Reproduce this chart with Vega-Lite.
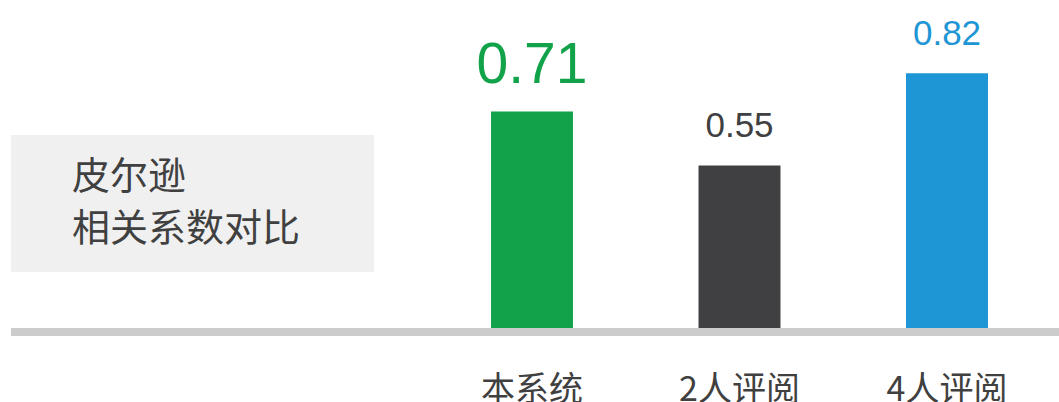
{
  "$schema": "https://vega.github.io/schema/vega-lite/v6.json",
  "width": 1048,
  "height": 328,
  "autosize": {"type": "none"},
  "padding": {"left": 11, "top": 0, "right": 0, "bottom": 74},
  "background": "#ffffff",
  "config": {"view": {"stroke": null}},
  "datasets": {
    "scores": [
      {"group": "本系统", "r": 0.71},
      {"group": "2人评阅", "r": 0.55},
      {"group": "4人评阅", "r": 0.82}
    ],
    "note": [
      {"label": "皮尔逊\n相关系数对比"}
    ]
  },
  "layer": [
    {
      "data": {"name": "note"},
      "layer": [
        {
          "mark": {"type": "rect", "fill": "#f0f0f0"},
          "encoding": {
            "x": {"datum": 0, "type": "quantitative", "scale": {"domain": [0, 1], "range": [0, 363], "nice": false, "zero": false}, "axis": null},
            "x2": {"datum": 1},
            "y": {"datum": 0, "type": "quantitative", "scale": {"domain": [0, 1], "range": [272, 135], "nice": false, "zero": false}, "axis": null},
            "y2": {"datum": 1}
          }
        },
        {
          "mark": {"type": "text", "align": "left", "baseline": "middle", "dx": 61, "dy": -26, "fontSize": 38, "lineHeight": 52.5, "lineBreak": "\n", "font": "Noto Sans CJK SC", "color": "#404040"},
          "encoding": {
            "x": {"datum": 0, "type": "quantitative"},
            "y": {"datum": 0.5, "type": "quantitative"},
            "text": {"field": "label", "type": "nominal"}
          }
        }
      ]
    },
    {
      "data": {"name": "scores"},
      "encoding": {
        "x": {
          "field": "group", "type": "nominal", "sort": null,
          "scale": {"type": "band", "domain": ["本系统", "2人评阅", "4人评阅"], "range": [417.25, 1039.75], "paddingInner": 0.605, "paddingOuter": 0.3025},
          "axis": {"orient": "bottom", "title": null, "domain": false, "ticks": false, "grid": false, "labelAngle": 0, "labelOverlap": false, "labelFont": "Noto Sans CJK SC", "labelFontSize": 34, "labelColor": "#404040", "labelPadding": 45}
        },
        "y": {
          "field": "r", "type": "quantitative",
          "scale": {"type": "pow", "exponent": 1.125, "domain": [0, 1.0268], "nice": false},
          "axis": null
        },
        "color": {
          "field": "group", "type": "nominal",
          "scale": {"domain": ["本系统", "2人评阅", "4人评阅"], "range": ["#12a34a", "#404042", "#1e95d4"]},
          "legend": null
        }
      },
      "layer": [
        {
          "mark": {"type": "rule", "color": "#cccccc", "strokeWidth": 8, "yOffset": 4},
          "encoding": {
            "y": {"datum": 0, "type": "quantitative"},
            "x": null,
            "color": null
          }
        },
        {
          "mark": {"type": "bar"}
        },
        {
          "mark": {"type": "text", "baseline": "alphabetic", "dy": -28, "font": "Liberation Sans"},
          "encoding": {
            "text": {"field": "r", "type": "quantitative", "format": ".2f"},
            "size": {"condition": {"test": "datum.group === '本系统'", "value": 57}, "value": 35}
          }
        }
      ]
    }
  ],
  "resolve": {"scale": {"x": "independent", "y": "independent"}}
}
